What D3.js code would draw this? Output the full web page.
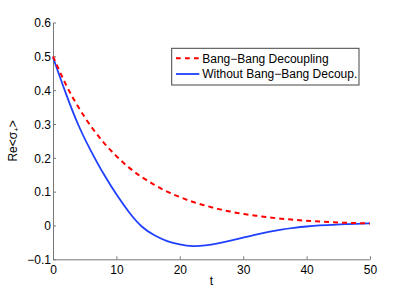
<!DOCTYPE html>
<html>
<head>
<meta charset="utf-8">
<script src="https://cdn.jsdelivr.net/npm/d3@7"></script>
<style>
    body { margin: 0; background: #fff; }
    text { font-family: "Liberation Sans", Arial, sans-serif; }
</style>
</head>
<body>
<div id="chart-container"></div>
<script>
// values, t every 2 units
const tValues = [0, 2, 4, 6, 8, 10, 12, 14, 16, 18, 20, 22, 24, 26, 28, 30, 32, 34, 36, 38, 40, 42, 44, 46, 48, 50];
const bangBang = [0.5, 0.418, 0.350, 0.293, 0.245, 0.205, 0.171, 0.143, 0.120, 0.100, 0.084, 0.070, 0.059,
    0.049, 0.041, 0.034, 0.029, 0.024, 0.020, 0.017, 0.014, 0.012, 0.010, 0.008, 0.007, 0.006];
const withoutBangBang = [0.497, 0.392, 0.297, 0.220, 0.152, 0.092, 0.039, -0.003, -0.029, -0.046, -0.056, -0.061, -0.059,
    -0.053, -0.045, -0.036, -0.027, -0.019, -0.012, -0.007, -0.003, 0.000, 0.002, 0.004, 0.005, 0.006];
const xTicks = [0, 10, 20, 30, 40, 50];
const yTicks = [-0.1, 0, 0.1, 0.2, 0.3, 0.4, 0.5, 0.6];
const seriesNames = ["Bang\u2212Bang Decoupling", "Without Bang\u2212Bang Decoup."];

const svgWidth = 409,
    svgHeight = 292,
    margin = { top: 22.5, right: 39, bottom: 32.7, left: 53 },
    width = svgWidth - margin.left - margin.right,
    height = svgHeight - margin.top - margin.bottom;

let svg = d3.select("#chart-container").append("svg")
    .attr("width", svgWidth)
    .attr("height", svgHeight)
    .append("g")
    .attr("transform", "translate(" + margin.left + "," + margin.top + ")");

let xScale = d3.scaleLinear()
    .domain([0, 50])
    .range([0, width]);
let yScale = d3.scaleLinear()
    .domain([-0.1, 0.6])
    .range([height, 0]);

// axes, ticks pointing inward like matlab
let xAxis = svg.append("g")
    .attr("transform", `translate(0, ${height})`)
    .call(d3.axisBottom(xScale).tickValues(xTicks).tickSize(-3).tickPadding(6).tickSizeOuter(0));
let yAxis = svg.append("g")
    .call(d3.axisLeft(yScale).tickValues(yTicks).tickSize(-3).tickPadding(2).tickSizeOuter(0)
        .tickFormat((d) => d3.format("")(+d.toFixed(1))));

[xAxis, yAxis].forEach((a) => {
    a.selectAll("path, line").attr("stroke", "#777").attr("stroke-width", 1);
    a.selectAll("text").attr("fill", "#000").style("font-size", "12px");
});
yAxis.selectAll("text").attr("dy", "0.36em");

// axis labels
svg.append("text")
    .attr("x", width / 2)
    .attr("y", height + 26)
    .attr("text-anchor", "middle")
    .style("font-size", "12px")
    .text("t");

let yLabel = svg.append("text")
    .attr("transform", `translate(-36, ${height / 2}) rotate(-90)`)
    .attr("text-anchor", "middle")
    .style("font-size", "12px");
yLabel.append("tspan").text("Re<\u03c3");
yLabel.append("tspan").attr("baseline-shift", "-25%").style("font-size", "8px").text("+");
yLabel.append("tspan").text(">");

// lines
let line = (vals) => d3.line()
    .x((d, i) => xScale(tValues[i]))
    .y((d) => yScale(d))
    .curve(d3.curveNatural)(vals);

svg.append("path")
    .attr("d", line(withoutBangBang))
    .attr("fill", "none")
    .attr("stroke", "#2040ff")
    .attr("stroke-width", 1.8);

svg.append("path")
    .attr("d", line(bangBang))
    .attr("fill", "none")
    .attr("stroke", "#ff0000")
    .attr("stroke-width", 2)
    .attr("stroke-dasharray", "5,4");

// legend
let legend = svg.append("g")
    .attr("transform", `translate(${171.7 - margin.left}, ${48.3 - margin.top})`);
legend.append("rect")
    .attr("width", 187.3)
    .attr("height", 36.7)
    .attr("fill", "#fff")
    .attr("stroke", "#444")
    .attr("stroke-width", 1);

let styles = [
    { color: "#ff0000", dash: "4.7,4.3", w: 2 },
    { color: "#2040ff", dash: null, w: 1.8 }
];
seriesNames.forEach((name, i) => {
    let yRow = 10 + i * 15.7;
    legend.append("line")
        .attr("x1", 4.3).attr("x2", 27.6)
        .attr("y1", yRow).attr("y2", yRow)
        .attr("stroke", styles[i].color)
        .attr("stroke-width", styles[i].w)
        .attr("stroke-dasharray", styles[i].dash);
    legend.append("text")
        .attr("x", 30.5)
        .attr("y", yRow)
        .attr("dy", "0.36em")
        .style("font-size", "12px")
        .text(name);
});
</script>
</body>
</html>
